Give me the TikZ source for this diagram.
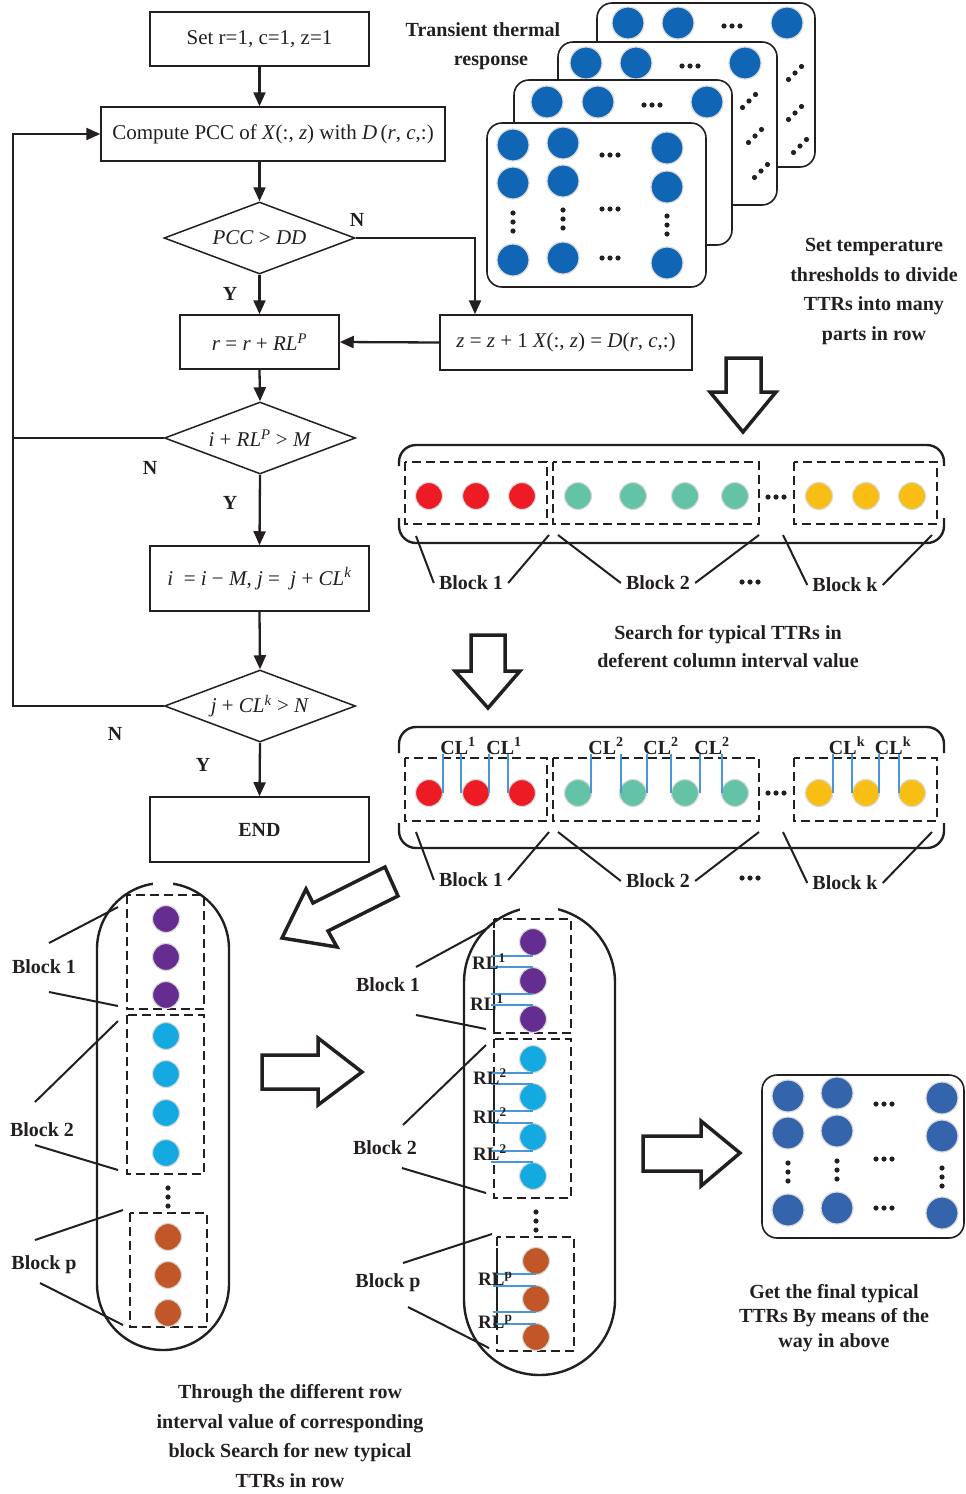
\documentclass[tikz,border=0pt]{standalone}
\usepackage{fontspec}
\setmainfont{Liberation Serif}
\usetikzlibrary{shapes.geometric,arrows.meta,calc}
\definecolor{ink}{RGB}{35,31,32}
\definecolor{cardblue}{RGB}{16,101,180}
\definecolor{finblue}{RGB}{52,101,172}
\definecolor{cred}{RGB}{237,28,36}
\definecolor{cgreen}{RGB}{100,195,167}
\definecolor{cyellow}{RGB}{249,190,20}
\definecolor{cpurple}{RGB}{102,45,145}
\definecolor{ccyan}{RGB}{20,170,225}
\definecolor{corange}{RGB}{193,87,40}
\definecolor{lblue}{RGB}{75,150,215}
\newcommand\mhd[2]{\fill[ink] (#1-8,#2) circle[radius=2.6pt] (#1,#2) circle[radius=2.6pt] (#1+8,#2) circle[radius=2.6pt];}
\newcommand\mvd[2]{\fill[ink] (#1,#2-9) circle[radius=2.6pt] (#1,#2) circle[radius=2.6pt] (#1,#2+9) circle[radius=2.6pt];}
\newcommand\mdd[2]{\fill[ink] (#1-6.5,#2+6.5) circle[radius=2.6pt] (#1,#2) circle[radius=2.6pt] (#1+6.5,#2-6.5) circle[radius=2.6pt];}
\begin{document}
\begin{tikzpicture}[x=1pt,y=-1pt,
  every node/.style={font=\fontsize{20}{24}\selectfont, text=ink},
  fbox/.style={draw=ink, line width=1.5pt, inner sep=0pt, font=\fontsize{21}{25}\selectfont},
  fdia/.style={draw=ink, line width=1.5pt, diamond, aspect=2.65, minimum width=191pt, minimum height=72pt, inner sep=0pt, font=\fontsize{21}{25}\selectfont},
  arr/.style={draw=ink, line width=2.3pt, -{Triangle[length=14pt,width=12pt]}},
  ln/.style={draw=ink, line width=2.3pt},
  ldr/.style={draw=ink, line width=2pt},
  lbl/.style={font=\fontsize{20}{24}\selectfont\bfseries, inner sep=0pt},
  blbl/.style={font=\fontsize{20}{24}\selectfont\bfseries, inner sep=5pt},
  card/.style={draw=ink, line width=1.6pt, rounded corners=15pt, fill=white},
  ball/.style={circle, draw=black!15, line width=1.2pt, inner sep=0pt, minimum size=#1},
  harrow/.style={draw=ink, line width=3.5pt, fill=white, line join=miter},
  band/.style={draw=ink, line width=2.4pt, rounded corners=17pt},
  dbox/.style={draw=ink, line width=1.4pt, dash pattern=on 9pt off 5pt},
  capsule/.style={draw=ink, line width=2.4pt},
  bl/.style={draw=lblue, line width=1.8pt},
  txt/.style={font=\fontsize{20}{24}\selectfont\bfseries, align=center, inner sep=0pt}
]
\useasboundingbox (0,0) rectangle (966,1494);

% ---------- flowchart ----------
\node[fbox, minimum width=219pt, minimum height=54pt] (b1) at (259.5,39) {Set r=1, c=1, z=1};
\node[fbox, minimum width=344pt, minimum height=54pt] (b2) at (273,134) {Compute PCC of \textit{X}(:, \textit{z}) with \textit{D}\,(\textit{r}, \textit{c},:)};
\node[fdia] (d1) at (259.5,238) {\textit{PCC} > \textit{DD}};
\node[fbox, minimum width=159pt, minimum height=54pt] (b3) at (259.5,342) {\textit{r} = \textit{r} + \textit{RL}\textsuperscript{\textit{P}}};
\node[fbox, minimum width=252pt, minimum height=55pt] (b4) at (566,342.5) {\textit{z} = \textit{z} + 1 \textit{X}(:, \textit{z}) = \textit{D}(\textit{r}, \textit{c},:)};
\node[fdia] (d2) at (260,438) {\textit{i} + \textit{RL}\textsuperscript{\textit{P}} > \textit{M}};
\node[fbox, minimum width=219pt, minimum height=65pt] (b5) at (259.5,578.5) {\textit{i} \ = \textit{i} − \textit{M}, \textit{j} = \ \textit{j} + \textit{CL}\textsuperscript{\textit{k}}};
\node[fdia] (d3) at (260,706) {\textit{j} + \textit{CL}\textsuperscript{\textit{k}} > \textit{N}};
\node[fbox, minimum width=219pt, minimum height=65pt, font=\fontsize{20}{24}\selectfont\bfseries] (b6) at (259.5,829.5) {END};

\draw[arr] (b1.south) -- (b1.south |- b2.north);
\draw[arr] (b1.south |- b2.south) -- (d1.north);
\draw[arr] (d1.south) -- (b3.north);
\coordinate (nt) at (475,238);
\draw[arr] (d1.east) -- (nt) -- (nt |- b4.north);
\draw[arr] (b4.west) -- (b3.east);
\draw[arr] (b3.south) -- (d2.north);
\draw[arr] (d2.south) -- (b5.north);
\draw[arr] (b5.south) -- (d3.north);
\draw[arr] (d3.south) -- (b6.north);
\coordinate (L) at (13,0);
\draw[arr] (d2.west) -- (L |- d2.west) -- (L |- b2.west) -- (b2.west);
\draw[ln] (d3.west) -- (L |- d3.west) -- (L |- d2.west);

\node[lbl] (n1) at (357,220) {N};
\node[lbl] (y1) at (230,294) {Y};
\node[lbl] (n2) at (150,468) {N};
\node[lbl] (y2) at (230,503) {Y};
\node[lbl] (n3) at (115,734) {N};
\node[lbl] (y3) at (203,765) {Y};

% ---------- stacked TTR cards ----------
\node[txt] (t1) at (483,30) {Transient thermal};
\node[txt] (t2) at (491,63) {response};

\draw[card] (597,3) rectangle (815,167);
\foreach \x in {628,678,787} \node[ball=32pt, fill=cardblue] (c4-\x) at (\x,23) {};
\mhd{732}{26}
\mdd{795}{73}\mdd{795}{113}\mdd{800}{146}
\draw[card] (558,42) rectangle (777,205);
\foreach \x in {586,636,745} \node[ball=32pt, fill=cardblue] (c3-\x) at (\x,63) {};
\mhd{690}{66}
\mdd{749}{101}\mdd{755}{136}\mdd{761}{171}
\draw[card] (514,80) rectangle (732,245);
\foreach \x in {547,598,707} \node[ball=32pt, fill=cardblue] (c2-\x) at (\x,102) {};
\mhd{652}{105}
\draw[card] (487,123) rectangle (706,287);
\foreach \x/\y [count=\i] in {513/145,513/183,513/260,563/143,563/181,563/258,667/148,667/187,667/263}
  \node[ball=32pt, fill=cardblue] (c1-\i) at (\x,\y) {};
\mhd{610}{155}\mhd{610}{209}\mhd{610}{258}
\mvd{513}{222}\mvd{563}{219}\mvd{667}{225}

\node[txt, font=\fontsize{20}{29.7}\selectfont\bfseries] (t3) at (874,291.5) {Set temperature\\thresholds to divide\\TTRs into many\\parts in row};

\draw[harrow] (726,358) -- (761,358) -- (761,392) -- (776,392) -- (743,432) -- (710,392) -- (726,392) -- cycle;

% ---------- band 1 ----------
\draw[band] (399,466) -- (399,445) -- (944,445) -- (944,466);
\draw[band] (399,518) -- (399,543) -- (944,543) -- (944,518);
\draw[dbox] (405,462) rectangle (547,524);
\draw[dbox] (553,462) rectangle (759,524);
\draw[dbox] (794,462) rectangle (937,524);
\foreach \x in {429,476,522} \node[ball=27pt, fill=cred] (r1-\x) at (\x,496) {};
\foreach \x in {578,633,685,735} \node[ball=27pt, fill=cgreen] (g1-\x) at (\x,496) {};
\foreach \x in {819,866,912} \node[ball=27pt, fill=cyellow] (y1-\x) at (\x,496) {};
\mhd{776}{497}
\node[blbl] (bk11) at (471,583) {Block 1};
\node[blbl] (bk12) at (658,583) {Block 2};
\node[blbl] (bk1k) at (845,585) {Block k};
\mhd{750}{582}
\coordinate (q1) at (416,536); \coordinate (q2) at (549,535);
\coordinate (q3) at (558,535); \coordinate (q4) at (759,535);
\coordinate (q5) at (783,535); \coordinate (q6) at (932,535);
\draw[ldr] (q1) -- (bk11.west); \draw[ldr] (q2) -- (bk11.east);
\draw[ldr] (q3) -- (bk12.west); \draw[ldr] (q4) -- (bk12.east);
\draw[ldr] (q5) -- (bk1k.west); \draw[ldr] (q6) -- (bk1k.east);

\node[txt, font=\fontsize{20}{28}\selectfont\bfseries] (t4) at (728,647) {Search for typical TTRs in\\deferent column interval value};

\draw[harrow] (471,635) -- (505,635) -- (505,671) -- (520,671) -- (488,708) -- (455,671) -- (471,671) -- cycle;

% ---------- band 2 ----------
\draw[band] (399,753) -- (399,727) -- (944,727) -- (944,753);
\draw[band] (399,823) -- (399,848) -- (944,848) -- (944,823);
\draw[dbox] (405,758) rectangle (547,821);
\draw[dbox] (553,758) rectangle (759,821);
\draw[dbox] (794,758) rectangle (937,821);
\foreach \x in {429,476,522} \node[ball=27pt, fill=cred] (r2-\x) at (\x,793) {};
\foreach \x in {578,633,685,735} \node[ball=27pt, fill=cgreen] (g2-\x) at (\x,793) {};
\foreach \x in {819,866,912} \node[ball=27pt, fill=cyellow] (y2-\x) at (\x,793) {};
\mhd{776}{793}
\foreach \x in {443,461,489,508,591,621,647,671,700,722,833,852,879,899}
  \draw[bl] (\x,754) -- (\x,793);
\foreach \x/\s [count=\i] in {458/1,504/1,606/2,661/2,712/2,847/k,893/k}
  \node[lbl, anchor=base] (cl\i) at (\x,754) {CL\textsuperscript{\s}};
\node[blbl] (bk21) at (471,880) {Block 1};
\node[blbl] (bk22) at (658,881) {Block 2};
\node[blbl] (bk2k) at (845,883) {Block k};
\mhd{750}{878}
\coordinate (s1) at (416,832); \coordinate (s2) at (549,832);
\coordinate (s3) at (558,832); \coordinate (s4) at (759,832);
\coordinate (s5) at (783,832); \coordinate (s6) at (932,832);
\draw[ldr] (s1) -- (bk21.west); \draw[ldr] (s2) -- (bk21.east);
\draw[ldr] (s3) -- (bk22.west); \draw[ldr] (s4) -- (bk22.east);
\draw[ldr] (s5) -- (bk2k.west); \draw[ldr] (s6) -- (bk2k.east);

% ---------- hollow arrows ----------
\draw[harrow] (282,938) -- (306,889) -- (313,903) -- (385,867) -- (398,896) -- (328,931) -- (337,947) -- cycle;
\draw[harrow] (262,1055) -- (318,1055) -- (318,1038) -- (362,1072) -- (318,1105) -- (318,1089) -- (262,1089) -- cycle;
\draw[harrow] (643,1136) -- (701,1136) -- (701,1121) -- (740,1153) -- (701,1186) -- (701,1171) -- (643,1171) -- cycle;

% ---------- left capsule ----------
\draw[capsule, rounded corners=66pt] (97,883) rectangle (229,1350);
\fill[white] (153,878) rectangle (173,888);
\draw[dbox] (127,895) rectangle (204,1009);
\draw[dbox] (127,1015) rectangle (204,1174);
\draw[dbox] (130,1213) rectangle (207,1327);
\foreach \y in {919,957,995} \node[ball=27pt, fill=cpurple] (lp-\y) at (166,\y) {};
\foreach \y in {1036,1074,1113,1153} \node[ball=27pt, fill=ccyan] (lc-\y) at (166,\y) {};
\foreach \y in {1237,1275,1313} \node[ball=27pt, fill=corange] (lo-\y) at (168,\y) {};
\mvd{168}{1197}
\node[lbl] (lb1) at (44,967) {Block 1};
\node[lbl] (lb2) at (42,1130) {Block 2};
\node[lbl] (lbp) at (44,1265) {Block p};
\draw[ldr] (49,943) -- (118,907);
\draw[ldr] (49,992) -- (118,1006);
\draw[ldr] (35,1102) -- (118,1021);
\draw[ldr] (35,1145) -- (118,1170);
\draw[ldr] (35,1240) -- (123,1210);
\draw[ldr] (40,1283) -- (123,1325);

% ---------- middle capsule ----------
\draw[capsule, rounded corners=75.5pt] (464,907) rectangle (615,1375);
\fill[white] (520,902) rectangle (558,912);
\draw[dbox] (494,919) rectangle (571,1033);
\draw[dbox] (494,1039) rectangle (571,1198);
\draw[dbox] (497,1237) rectangle (574,1351);
\draw[ink, line width=1.4pt] (494,930) -- (494,1031);
\draw[ink, line width=1.4pt] (494,1070) -- (494,1133);
\draw[ink, line width=1.4pt] (497,1248) -- (497,1330);
\foreach \y in {942,981,1019} \node[ball=27pt, fill=cpurple] (mp-\y) at (533,\y) {};
\foreach \y in {1059,1097,1137,1176} \node[ball=27pt, fill=ccyan] (mc-\y) at (533,\y) {};
\foreach \y in {1261,1299,1337} \node[ball=27pt, fill=corange] (mo-\y) at (536,\y) {};
\mvd{536}{1221}
\foreach \y in {956,967,994,1005,1073,1084,1111,1123,1151,1162}
  \draw[bl] (491,\y) -- (533,\y);
\foreach \y in {1274,1286,1312,1324}
  \draw[bl] (493,\y) -- (536,\y);
\foreach \x/\y/\s [count=\i] in {472/969/1,470/1010/1,473/1084/2,473/1123/2,473/1160/2,478/1285/p,478/1328/p}
  \node[lbl, anchor=base west, font=\fontsize{19}{22}\selectfont\bfseries] (rl\i) at (\x,\y) {RL\textsuperscript{\s}};
\node[lbl] (mb1) at (388,985) {Block 1};
\node[lbl] (mb2) at (385,1148) {Block 2};
\node[lbl] (mbp) at (388,1283) {Block p};
\draw[ldr] (416,967) -- (486,929);
\draw[ldr] (416,1015) -- (486,1029);
\draw[ldr] (403,1125) -- (486,1045);
\draw[ldr] (402,1168) -- (486,1193);
\draw[ldr] (403,1263) -- (492,1234);
\draw[ldr] (408,1307) -- (489,1348);

% ---------- final card ----------
\draw[card] (762,1075) rectangle (964,1238);
\foreach \x/\y [count=\i] in {788/1096,788/1133,788/1210,837/1093,837/1131,837/1208,942/1098,942/1136,942/1213}
  \node[ball=32pt, fill=finblue] (f-\i) at (\x,\y) {};
\mhd{884}{1104}\mhd{884}{1159}\mhd{884}{1208}
\mvd{788}{1172}\mvd{837}{1170}\mvd{942}{1177}

\node[txt, font=\fontsize{20}{24.5}\selectfont\bfseries] (t5) at (834,1318) {Get the final typical\\TTRs By means of the\\way in above};
\node[txt, font=\fontsize{20}{29.7}\selectfont\bfseries] (t6) at (290,1436) {Through the different row\\interval value of corresponding\\block Search for new typical\\TTRs in row};
\end{tikzpicture}
\end{document}
